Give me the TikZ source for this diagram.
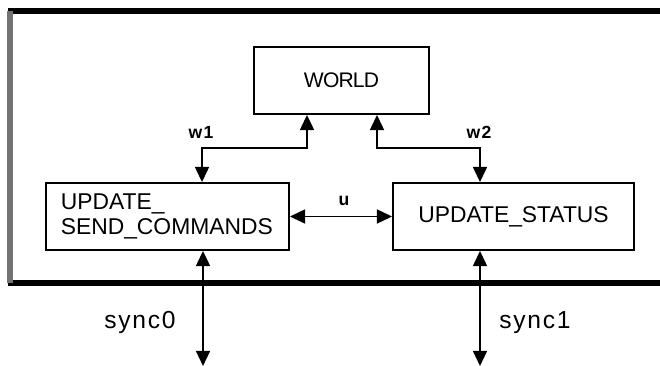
\documentclass[tikz,border=0pt]{standalone}
\usepackage{fontspec}
\setmainfont{Liberation Sans}
\newfontfamily\widefont[LetterSpace=7]{Liberation Sans}
\newfontfamily\tightfont[LetterSpace=-4]{Liberation Sans}
\usetikzlibrary{arrows.meta, positioning}

\begin{document}
\begin{tikzpicture}[x=0.03cm, y=-0.03cm]
    \tikzstyle{block} = [rectangle, draw, line width=1.6pt, minimum height=2.01cm,
                         inner sep=0pt, font=\fontsize{19.5}{22}\selectfont]
    \tikzstyle{link} = [{Triangle[length=13pt,width=12pt]}-{Triangle[length=13pt,width=12pt]},
                        line width=1.5pt]
    \tikzstyle{frame} = [line width=5pt]
    \tikzstyle{lbl} = [font=\widefont\bfseries\fontsize{15}{17}\selectfont]
    \tikzstyle{synclbl} = [font=\widefont\fontsize{21}{24}\selectfont]

    \useasboundingbox (0,0) rectangle (660,366);

    % enclosing frame
    \draw[frame] (8,11) -- (660,11);
    \draw[frame] (8,283) -- (660,283);
    \draw[frame, black!55] (10,11) -- (10,283);

    \node [block, minimum width=5.25cm, font=\tightfont\fontsize{18}{20}\selectfont] (world) at (341.5,80.5) {WORLD};
    \node [block, minimum width=7.29cm, align=left, text width=6.4cm] (send) at (167.5,216.5) {
        UPDATE\_\\
        SEND\_COMMANDS
    };
    \node [block, minimum width=7.23cm] (status) at (513.5,216.5) {UPDATE\_STATUS};

    \coordinate (w1a) at (307,148);
    \coordinate (w1b) at (202,148);
    \coordinate (w2a) at (377,148);
    \coordinate (w2b) at (480,148);
    \coordinate (s0) at (203,366);
    \coordinate (s1) at (480,366);

    \draw[link] (world.south -| w1a) -- (w1a) -- (w1b) -- (w1b |- send.north);
    \draw[link] (world.south -| w2a) -- (w2a) -- (w2b) -- (w2b |- status.north);
    \draw[link] (send) -- (status);
    \draw[link] (s0 |- send.south) -- (s0);
    \draw[link] (s1 |- status.south) -- (s1);

    \node [lbl] (w1) at (201,132) {w1};
    \node [lbl] (w2) at (479,132) {w2};
    \node [lbl] (u) at (344,201) {u};
    \node [synclbl] (sync0) at (140,322) {sync0};
    \node [synclbl] (sync1) at (535,323) {sync1};
\end{tikzpicture}
\end{document}
